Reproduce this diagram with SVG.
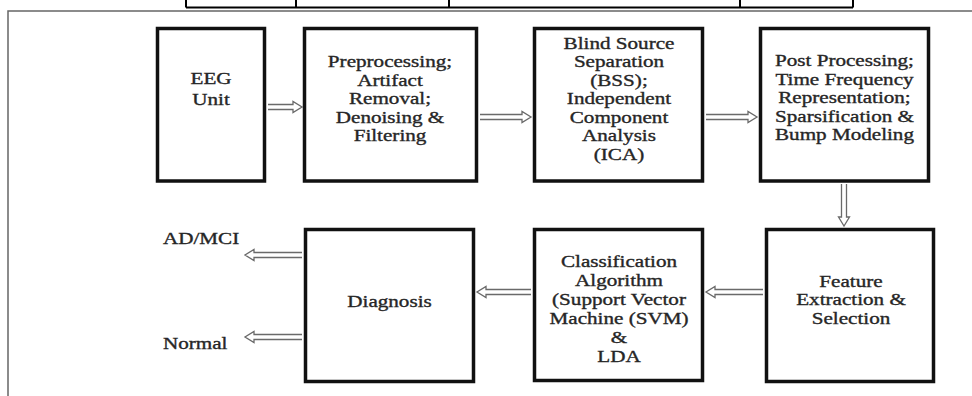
<svg xmlns="http://www.w3.org/2000/svg" width="972" height="396" viewBox="0 0 972 396">
<style>
.box{fill:#fff;stroke:#111;stroke-width:3.5}
.t{font-family:"Liberation Serif","Times New Roman",serif;font-size:16.5px;fill:#262626;stroke:#262626;stroke-width:0.35;text-anchor:middle}
.ts{font-family:"Liberation Serif","Times New Roman",serif;font-size:16.5px;fill:#262626;stroke:#262626;stroke-width:0.35;text-anchor:start}
.arr{fill:#fff;stroke:#6a6a6a;stroke-width:1.3;stroke-linejoin:miter}
.tab{stroke:#000;stroke-width:2;fill:none}
.frame{stroke:#666;stroke-width:1.5;fill:none}
</style>
<rect width="972" height="396" fill="#fff"/>
<g id="table-fragment">
<path class="tab" d="M186 7.5 H853 M186 0 V7.5 M296 0 V7.5 M449 0 V7.5 M740 0 V7.5 M853 0 V7.5"/>
</g>
<path class="frame" d="M8 396 V11 H972"/>
<g id="connectors">
<path class="arr" d="M268 104.5 H293 V101.5 L302 107 L293 112.5 V109.5 H268"/>
<path class="arr" d="M480 114.5 H522 V111.5 L531 117 L522 122.5 V119.5 H480"/>
<path class="arr" d="M706 114.5 H748 V111.5 L757 117 L748 122.5 V119.5 H706"/>
<path class="arr" d="M841.5 184 V217 H838.5 L844 226 L849.5 217 H846.5 V184"/>
<path class="arr" d="M763 289.5 H715 V286.5 L706 292 L715 297.5 V294.5 H763"/>
<path class="arr" d="M531 289.5 H486 V286.5 L477 292 L486 297.5 V294.5 H531"/>
<path class="arr" d="M302 252.5 H254 V249.5 L245 255 L254 260.5 V257.5 H302"/>
<path class="arr" d="M302 334.5 H254 V331.5 L245 337 L254 342.5 V339.5 H302"/>
</g>
<g id="eeg">
<rect class="box" x="157.5" y="28.5" width="107" height="152.5"/>
<g transform="translate(211,0) scale(1.28,1)"><text class="t" y="84">EEG</text><text class="t" y="105">Unit</text></g>
</g>
<g id="preprocessing">
<rect class="box" x="304.5" y="28.5" width="172" height="152.5"/>
<g transform="translate(390,0) scale(1.28,1)"><text class="t" y="67.5">Preprocessing;</text><text class="t" y="86">Artifact</text><text class="t" y="104.5">Removal;</text><text class="t" y="123">Denoising &amp;</text><text class="t" y="141.5">Filtering</text></g>
</g>
<g id="bss">
<rect class="box" x="534.5" y="28.5" width="168" height="152.5"/>
<g transform="translate(619,0) scale(1.28,1)"><text class="t" y="49">Blind Source</text><text class="t" y="67.5">Separation</text><text class="t" y="86">(BSS);</text><text class="t" y="104.5">Independent</text><text class="t" y="123">Component</text><text class="t" y="141.5">Analysis</text><text class="t" y="160">(ICA)</text></g>
</g>
<g id="postprocessing">
<rect class="box" x="760.5" y="28.5" width="168" height="152.5"/>
<g transform="translate(844.5,0) scale(1.28,1)"><text class="t" y="66.5">Post Processing;</text><text class="t" y="85">Time Frequency</text><text class="t" y="103.5">Representation;</text><text class="t" y="122">Sparsification &amp;</text><text class="t" y="140.5">Bump Modeling</text></g>
</g>
<g id="feature">
<rect class="box" x="766.5" y="229.5" width="167" height="152"/>
<g transform="translate(851,0) scale(1.28,1)"><text class="t" y="287">Feature</text><text class="t" y="305.5">Extraction &amp;</text><text class="t" y="324">Selection</text></g>
</g>
<g id="classification">
<rect class="box" x="534.5" y="229.5" width="168" height="151"/>
<g transform="translate(619,0) scale(1.28,1)"><text class="t" y="267">Classification</text><text class="t" y="286">Algorithm</text><text class="t" y="305">(Support Vector</text><text class="t" y="324">Machine (SVM)</text><text class="t" y="343">&amp;</text><text class="t" y="362">LDA</text></g>
</g>
<g id="diagnosis">
<rect class="box" x="305.5" y="229.5" width="168" height="152"/>
<g transform="translate(389.5,0) scale(1.28,1)"><text class="t" y="307">Diagnosis</text></g>
</g>
<g id="admci">
<g transform="translate(163,0) scale(1.28,1)"><text class="ts" y="244">AD/MCI</text></g>
</g>
<g id="normal">
<g transform="translate(163,0) scale(1.28,1)"><text class="ts" y="349">Normal</text></g>
</g>
</svg>
